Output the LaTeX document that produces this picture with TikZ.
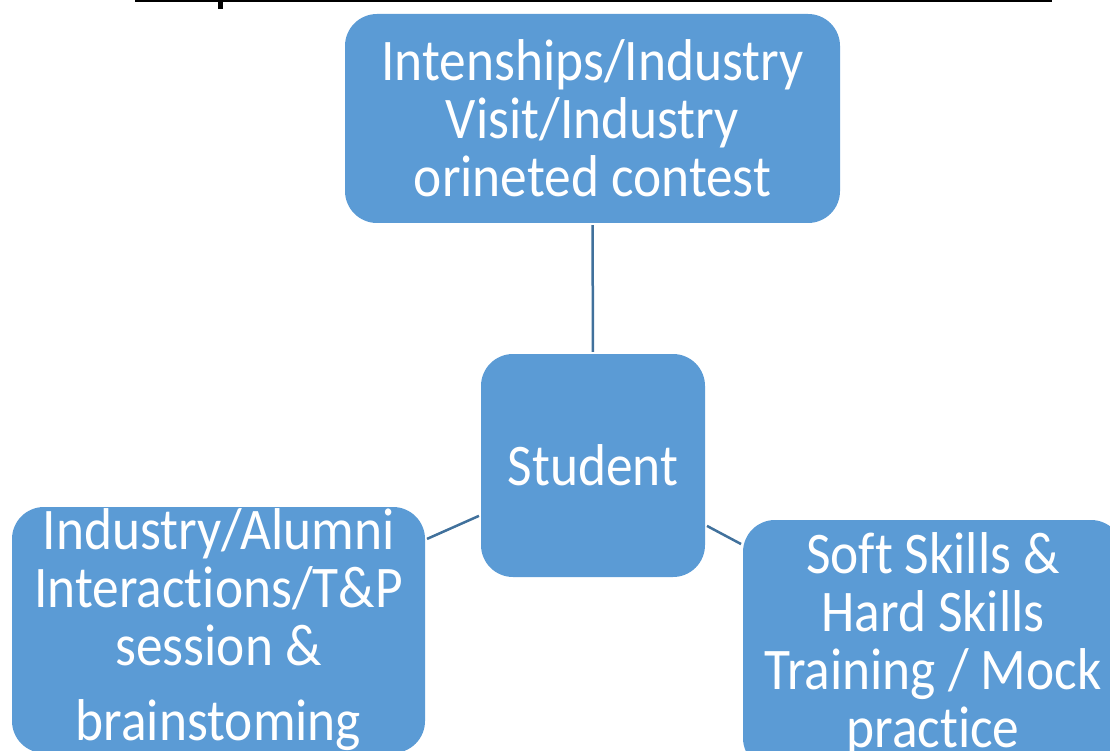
\documentclass[tikz,border=0pt]{standalone}
\usepackage{fontspec}
\setmainfont{Carlito}[Ligatures=NoCommon, FakeStretch=0.905]
\definecolor{boxblue}{HTML}{5B9BD5}
\definecolor{lineblue}{HTML}{41719C}
\begin{document}
\begin{tikzpicture}[x=1pt,y=-1pt,
  topic/.style={fill=boxblue, rounded corners=32pt, text=white, align=center, inner sep=0pt, font=\fontsize{59}{58}\selectfont},
  link/.style={draw=lineblue, line width=2.5pt, shorten <=2pt, shorten >=2pt}]
\useasboundingbox (0,0) rectangle (1110,751);
\clip (0,0) rectangle (1110,751);
\draw [line width=2.5pt] (135,1) -- (1052,1);
\fill (218,2) rectangle (223,9);
\node[topic, minimum width=495pt, minimum height=209pt] (visit) at (592.5,118.5) {Intenships/Industry\\Visit/Industry\\orineted contest};
\node[topic, minimum width=224pt, minimum height=223pt] (student) at (593,465.5) {Student};
\node[topic, minimum width=413pt, minimum height=246pt] (alumni) at (218.5,630) {Industry/Alumni\\Interactions/T\&P\\session \&\\[17pt]brainstoming};
\node[topic, minimum width=380pt, minimum height=250pt] (skills) at (933,645) {Soft Skills \&\\Hard Skills\\Training / Mock\\practice};
\draw[link] (visit) -- (student);
\draw[link] (student) -- (alumni);
\draw[link] (student) -- (skills);
\end{tikzpicture}
\end{document}
